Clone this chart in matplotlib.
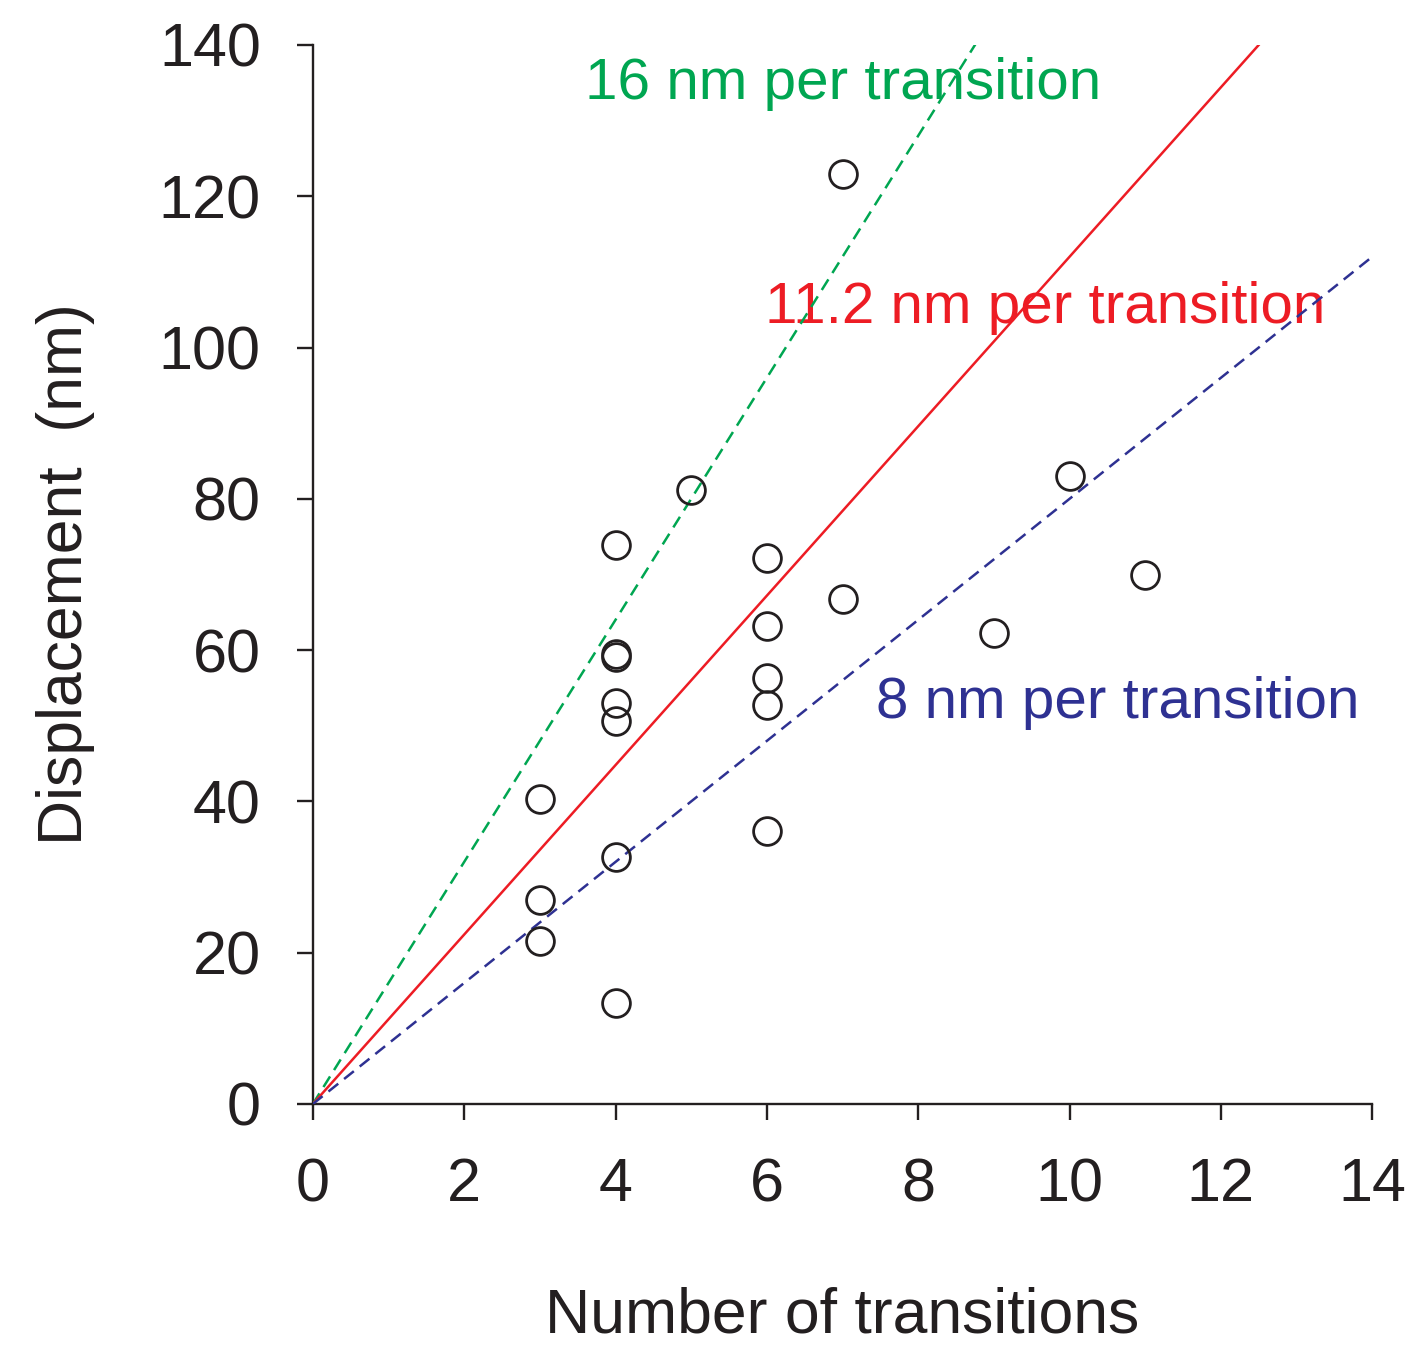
import matplotlib.pyplot as plt
import numpy as np

plt.rcParams['font.family'] = ['Liberation Sans', 'DejaVu Sans']

# transitions counted per event and the displacement measured (nm)
n_transitions = [3, 3, 3, 4, 4, 4, 4, 4, 4, 4, 5, 6, 6, 6, 6, 6, 7, 7, 9, 10, 11]
displacement = [40.3, 27.0, 21.6, 73.9, 59.5, 59.1, 53.0, 50.6, 32.6, 13.3,
                81.2, 72.2, 63.2, 56.3, 52.7, 36.1, 123.0, 66.8, 62.3, 83.0, 69.9]

# step sizes of the reference lines (nm per transition)
step_sizes = [16, 11.2, 8]
step_labels = ['16 nm per transition', '11.2 nm per transition', '8 nm per transition']
step_colors = ['#00a651', '#ed1c24', '#2e3192']
step_styles = [(0, (5, 3)), '-', (0, (5, 3))]
label_xy = [(3.6, 132.9), (5.98, 103.2), (7.44, 51.0)]

fig = plt.figure(figsize=(14.22, 13.46), dpi=100)
ax = fig.add_axes([0.220, 0.1798, 0.745, 0.7868])

x_line = np.array([0, 14])
for slope, lab, col, ls, (tx, ty) in zip(step_sizes, step_labels, step_colors, step_styles, label_xy):
    ax.plot(x_line, slope * x_line, color=col, linestyle=ls, linewidth=1.8, zorder=3)
    ax.text(tx, ty, lab, color=col, fontsize=42, ha='left', va='baseline', zorder=2)

ax.plot(n_transitions, displacement, 'o', markersize=20, markerfacecolor='none',
        markeredgecolor='#231f20', markeredgewidth=2.0, zorder=4)

ax.set_xlim(0, 14)
ax.set_ylim(0, 140)
ax.set_xticks(range(0, 15, 2))
ax.set_yticks(range(0, 141, 20))
ax.spines['top'].set_visible(False)
ax.spines['right'].set_visible(False)
for s in ['left', 'bottom']:
    ax.spines[s].set_linewidth(1.7)
    ax.spines[s].set_color('#231f20')
ax.tick_params(direction='out', length=11.5, width=1.7, labelsize=44, color='#231f20',
               labelcolor='#231f20')
ax.tick_params(axis='x', pad=27)
ax.tick_params(axis='y', pad=26)

ax.set_xlabel('Number of transitions', fontsize=45, color='#231f20', labelpad=52)
ax.set_ylabel('Displacement  (nm)', fontsize=45, color='#231f20', labelpad=46)

fig.savefig('out.png', dpi=100)
